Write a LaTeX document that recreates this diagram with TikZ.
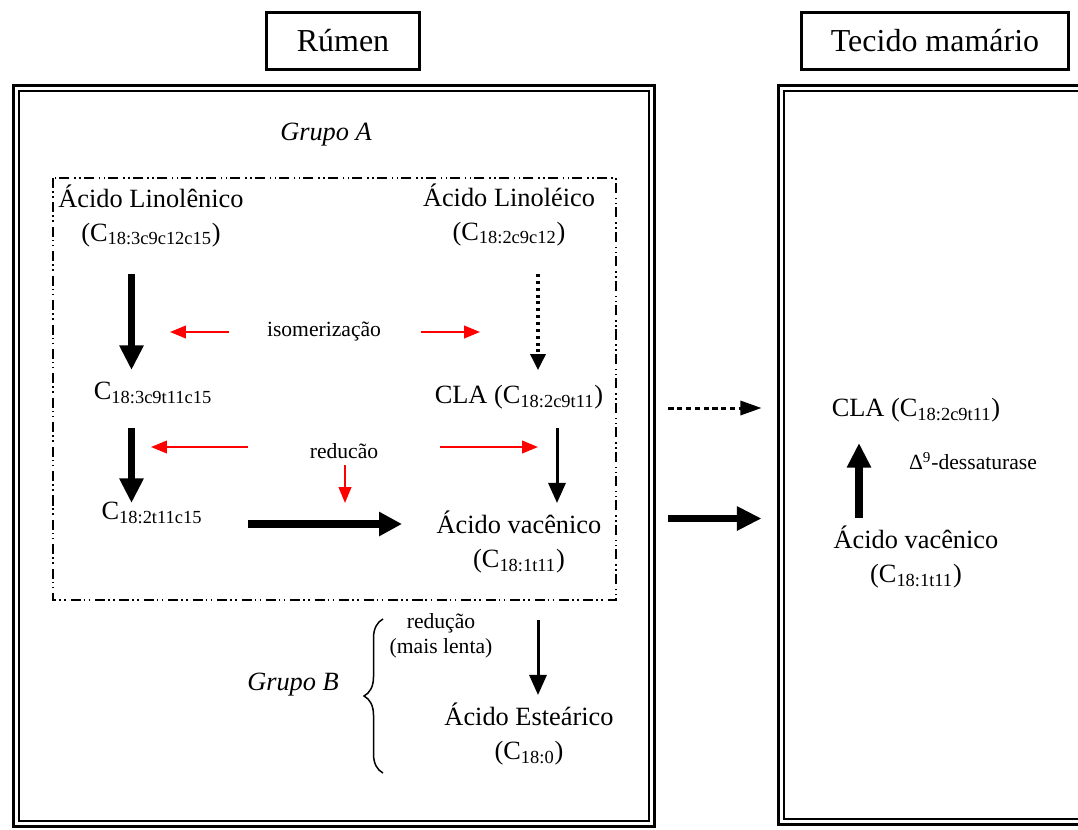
\documentclass[tikz,border=0pt]{standalone}
\usepackage{fontspec}
\setmainfont{Liberation Serif}
\usetikzlibrary{arrows.meta}
\usetikzlibrary{decorations.pathreplacing}

\begin{document}
\begin{tikzpicture}[x=0.02cm,y=-0.02cm,
  texto/.style={font=\fontsize{15}{19}\selectfont,align=center,inner sep=0pt},
  menor/.style={font=\fontsize{12.3}{14.2}\selectfont,align=center,inner sep=0pt},
  titulo/.style={draw,line width=1.7pt,font=\fontsize{18.2}{22}\selectfont,minimum height=1.14cm,inner sep=0pt},
  moldura/.style={draw,line width=1.7pt,inner sep=0pt},
  moldurain/.style={draw,line width=0.85pt,inner sep=0pt},
  grossa/.style={line width=4.3pt,-{Triangle[width=13pt,length=14pt]}},
  media/.style={line width=1.7pt,-{Triangle[width=9.7pt,length=11.4pt]}},
  vermelha/.style={red,line width=1.1pt,-{Triangle[width=7.2pt,length=9.1pt]}},
  pontilhada/.style={line width=1.8pt,dash pattern=on 1.7pt off 2.2pt,-{Triangle[width=8.5pt,length=9pt]}},
  tracejada/.style={line width=1.7pt,dash pattern=on 3pt off 2pt,-{Triangle[width=8pt,length=12pt]}},
  tracoponto/.style={line width=1.1pt,dash pattern=on 5.7pt off 1.7pt on 0.85pt off 2pt on 0.85pt off 2.8pt}]
\clip (0,0) rectangle (1078,829);
% titulos
\node (rumen) at (343,41) [titulo,minimum width=3.07cm] {Rúmen};
\node (tecido) at (935,41) [titulo,minimum width=5.34cm] {Tecido mamário};
% molduras duplas
\node (rumenframe) at (334,456) [moldura,minimum width=12.84cm,minimum height=14.84cm] {};
\node (rumeninner) at (334,456) [moldurain,minimum width=12.6cm,minimum height=14.6cm] {};
\node (tecframe) at (934,455) [moldura,minimum width=6.24cm,minimum height=14.8cm] {};
\node (tecinner) at (934,455) [moldurain,minimum width=6.0cm,minimum height=14.56cm] {};
% grupo A
\node (grupoA) at (326,135) [texto,font=\fontsize{15}{19}\selectfont\itshape] {Grupo A};
\draw[tracoponto] (53,178) rectangle (616,600);
\node (linolenico) at (151,216) [texto] {Ácido Linolênico\\(C\textsubscript{18:3c9c12c15})};
\node (linoleico) at (509,215) [texto] {Ácido Linoléico\\(C\textsubscript{18:2c9c12})};
\node (c18a) at (153,393) [texto] {C\textsubscript{18:3c9t11c15}};
\node (cla) at (519,397) [texto] {CLA (C\textsubscript{18:2c9t11})};
\node (c18b) at (152,513) [texto] {C\textsubscript{18:2t11c15}};
\node (vacenico) at (519,542) [texto] {Ácido vacênico\\(C\textsubscript{18:1t11})};
\node (iso) at (324,332) [menor] {isomerização};
\node (reduc) at (344,451) [menor] {reducão};
\draw[grossa] ([shift={(-19.5,58)}]linolenico.center) -- ([shift={(-21.5,-23)}]c18a.center);
\draw[pontilhada] ([shift={(29,59)}]linoleico.center) -- ([shift={(19,-27)}]cla.center);
\draw[grossa] ([shift={(-21.5,35)}]c18a.center) -- ([shift={(-20.5,-10)}]c18b.center);
\draw[media] ([shift={(38,31)}]cla.center) -- ([shift={(38,-39)}]vacenico.center);
\draw[line width=4.6pt,-{Triangle[width=13pt,length=13pt]}] ([shift={(96,11)}]c18b.center) -- ([shift={(-117,-18)}]vacenico.center);
\draw[vermelha] ([shift={(-95.5,0)}]iso.center) -- ([shift={(-154,0)}]iso.center);
\draw[vermelha] ([shift={(97,0)}]iso.center) -- ([shift={(156,0)}]iso.center);
\draw[vermelha] ([shift={(-96,-4)}]reduc.center) -- ([shift={(-193,-4)}]reduc.center);
\draw[vermelha] ([shift={(96,-4)}]reduc.center) -- ([shift={(194,-4)}]reduc.center);
\draw[vermelha] ([shift={(1,14)}]reduc.center) -- ([shift={(1,52)}]reduc.center);
% grupo B
\node (lenta) at (441,636) [menor] {redução\\(mais lenta)};
\node (grupoB) at (293,685) [texto,font=\fontsize{15}{19}\selectfont\itshape] {Grupo B};
\node (estearico) at (529,734) [texto] {Ácido Esteárico\\(C\textsubscript{18:0})};
\draw[media] ([shift={(19,78)}]vacenico.center) -- ([shift={(9,-39)}]estearico.center);
\draw[line width=0.85pt,decorate,decoration={brace,amplitude=0.38cm}] (383,773) -- (383,619);
% tecido mamario
\node (claM) at (916,410) [texto] {CLA (C\textsubscript{18:2c9t11})};
\node (dess) at (973,461) [menor] {Δ\textsuperscript{9}-dessaturase};
\node (vacM) at (916,557) [texto] {Ácido vacênico\\(C\textsubscript{18:1t11})};
\draw[grossa] ([shift={(-57,-39)}]vacM.center) -- ([shift={(-57,33)}]claM.center);
\draw[tracejada] ([shift={(12,-48)}]rumenframe.east) -- ([shift={(-15,-47)}]tecframe.west);
\draw[grossa,line width=4pt] ([shift={(12,62.5)}]rumenframe.east) -- ([shift={(-15,63.5)}]tecframe.west);
\end{tikzpicture}
\end{document}
